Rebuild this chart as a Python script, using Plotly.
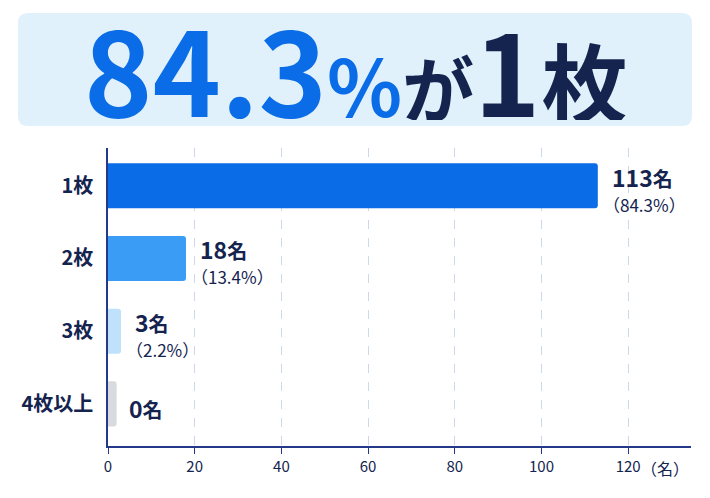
import plotly.graph_objects as go

# data
categories = ["1枚", "2枚", "3枚", "4枚以上"]
counts = [113, 18, 3, 0]
percents = ["84.3%", "13.4%", "2.2%", None]
bar_colors = ["#0a6ce6", "#3a9cf4", "#bfe1fb", "#d7dbe0"]
x_ticks = [0, 20, 40, 60, 80, 100, 120]

NAVY = "#14244f"
BLUE = "#0a6ce6"
FONT = "Noto Sans CJK JP"

# page body has an 8px margin, so the figure is sized to fit inside it
W, H = 702, 490
L, R, T, B = 100, 19, 140, 52
PW, PH = W - L - R, H - T - B

# a zero bar still gets a small grey stub so the row isn't empty
stub = 2
bar_x = [c if c > 0 else stub for c in counts]

fig = go.Figure()
fig.add_bar(
    x=bar_x, y=categories, orientation="h",
    marker=dict(color=bar_colors, cornerradius=3, line=dict(width=0)),
    width=0.62, hoverinfo="skip",
)

# value labels next to each bar
for cat, c, bx, p in zip(categories, counts, bar_x, percents):
    top = f"<b>{c}</b><b><span style='font-size:20px'>名</span></b>"
    if p is None:
        fig.add_annotation(x=bx, y=cat, text=top, showarrow=False,
                           xanchor="left", xshift=10, yshift=-4, height=24,
                           font=dict(family=FONT, size=23, color=NAVY))
    else:
        fig.add_annotation(x=bx, y=cat, text=top, showarrow=False,
                           xanchor="left", xshift=12, yshift=9, height=24,
                           font=dict(family=FONT, size=23, color=NAVY))
        fig.add_annotation(x=bx, y=cat, text=f"（{p}）", showarrow=False,
                           xanchor="left", xshift=3, yshift=-18, height=20,
                           font=dict(family=FONT, size=17, color=NAVY))


# headline box (rounded rect drawn as a path in paper coords)
def px_x(v):
    return (v - L) / PW


def px_y(v):
    return (H - B - v) / PH


bx0, bx1, by0, by1, r = 10, 684, 5, 118, 10
path = (f"M {px_x(bx0 + r)},{px_y(by0)} L {px_x(bx1 - r)},{px_y(by0)} "
        f"Q {px_x(bx1)},{px_y(by0)} {px_x(bx1)},{px_y(by0 + r)} "
        f"L {px_x(bx1)},{px_y(by1 - r)} "
        f"Q {px_x(bx1)},{px_y(by1)} {px_x(bx1 - r)},{px_y(by1)} "
        f"L {px_x(bx0 + r)},{px_y(by1)} "
        f"Q {px_x(bx0)},{px_y(by1)} {px_x(bx0)},{px_y(by1 - r)} "
        f"L {px_x(bx0)},{px_y(by0 + r)} "
        f"Q {px_x(bx0)},{px_y(by0)} {px_x(bx0 + r)},{px_y(by0)} Z")
fig.add_shape(type="path", xref="paper", yref="paper", path=path,
              fillcolor="#e0f1fc", line=dict(width=0), layer="below")

headline = (f"<span style='color:{BLUE}'>84.3</span>"
            f"<span style='color:{BLUE};font-size:78px'>%</span>"
            f"<span style='font-size:72px'>が</span>"
            f"<span style='font-size:112px'>1</span>"
            f"<span style='font-size:5px'> </span>"
            f"<span style='font-size:86px'>枚</span>")
fig.add_annotation(xref="paper", yref="paper", x=px_x(347), y=px_y(58),
                   text=f"<b>{headline}</b>", showarrow=False,
                   xanchor="center", yanchor="middle", height=108,
                   font=dict(family=FONT, size=116, color=NAVY, weight=900))

# unit label after the last tick
fig.add_annotation(xref="paper", yref="paper", x=1.0, y=0, yshift=-22,
                   yanchor="middle", text="（名）", showarrow=False,
                   xanchor="right",
                   font=dict(family=FONT, size=16, color=NAVY))

fig.update_xaxes(
    range=[0, 134.5], tickvals=x_ticks, ticks="outside", ticklen=6,
    tickcolor="#24398a", tickwidth=1.2,
    tickfont=dict(family=FONT, size=15, color=NAVY),
    showline=True, linecolor="#24398a", linewidth=1.5,
    showgrid=True, gridcolor="#cdd8ea", griddash="dash", gridwidth=1,
    zeroline=False, fixedrange=True, automargin=False,
)
fig.update_yaxes(
    categoryorder="array", categoryarray=categories,
    range=[3.58, -0.52], showline=True, linecolor="#24398a", linewidth=1.5,
    ticks="", ticklabelstandoff=9,
    tickfont=dict(family=FONT, size=20, color=NAVY, weight="bold"),
    showgrid=False, zeroline=False, fixedrange=True, automargin=False,
)
fig.update_layout(
    width=W, height=H,
    margin=dict(l=L, r=R, t=T, b=B),
    paper_bgcolor="#ffffff", plot_bgcolor="#ffffff",
    showlegend=False, bargap=0.38,
)

fig.write_html("out.html")
